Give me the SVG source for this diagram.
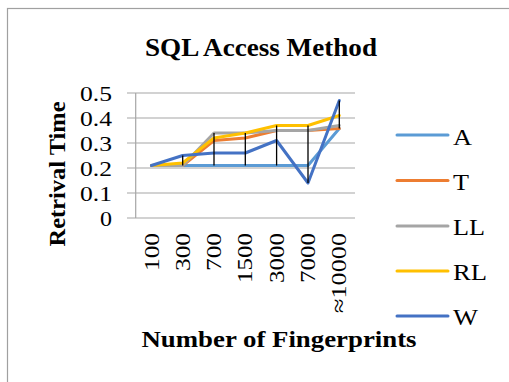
<svg xmlns="http://www.w3.org/2000/svg" width="509" height="382" viewBox="0 0 509 382">
<style>
text{font-family:"Liberation Serif","Times New Roman",serif;fill:#000}
.b{font-weight:bold}
.grid{stroke:#A6A6A6;stroke-width:1.2;fill:none}
.s{fill:none;stroke-width:3;stroke-linejoin:round;stroke-linecap:round}
.hl{stroke:#000;stroke-width:1.3}
.tick{font-size:21.5px;text-anchor:end}
.xl{font-size:22px;text-anchor:end}
.lg{font-size:24px}
</style>
<rect x="0" y="0" width="509" height="382" fill="#fff"/>
<rect x="7.5" y="8.5" width="520" height="400" fill="#fff" stroke="#A0A0A0" stroke-width="1.2"/>
<text class="b" x="261" y="56" font-size="25.5" text-anchor="middle" textLength="232" lengthAdjust="spacingAndGlyphs">SQL Access Method</text>
<g id="axes">
<path class="grid" d="M127 93H355M127 118H355M127 143H355M127 168H355M127 193H355M127 218H355M135.7 93V218"/>
<text class="tick" x="112" y="100.5" textLength="32" lengthAdjust="spacingAndGlyphs">0.5</text>
<text class="tick" x="112" y="125.5" textLength="32" lengthAdjust="spacingAndGlyphs">0.4</text>
<text class="tick" x="112" y="150.5" textLength="32" lengthAdjust="spacingAndGlyphs">0.3</text>
<text class="tick" x="112" y="175.5" textLength="32" lengthAdjust="spacingAndGlyphs">0.2</text>
<text class="tick" x="112" y="200.5" textLength="32" lengthAdjust="spacingAndGlyphs">0.1</text>
<text class="tick" x="112" y="225.5" textLength="12" lengthAdjust="spacingAndGlyphs">0</text>
<text class="xl" transform="translate(158.5,233) rotate(-90)" textLength="38" lengthAdjust="spacingAndGlyphs">100</text>
<text class="xl" transform="translate(189.8,233) rotate(-90)" textLength="38" lengthAdjust="spacingAndGlyphs">300</text>
<text class="xl" transform="translate(221.1,233) rotate(-90)" textLength="38" lengthAdjust="spacingAndGlyphs">700</text>
<text class="xl" transform="translate(252.4,233) rotate(-90)" textLength="50" lengthAdjust="spacingAndGlyphs">1500</text>
<text class="xl" transform="translate(283.7,233) rotate(-90)" textLength="50" lengthAdjust="spacingAndGlyphs">3000</text>
<text class="xl" transform="translate(315.1,233) rotate(-90)" textLength="50" lengthAdjust="spacingAndGlyphs">7000</text>
<text class="xl" transform="translate(346.4,233) rotate(-90)" textLength="80" lengthAdjust="spacingAndGlyphs">≈10000</text>
<text class="b" transform="translate(65,174) rotate(-90)" font-size="24" text-anchor="middle" textLength="145" lengthAdjust="spacingAndGlyphs">Retrival Time</text>
<text class="b" x="279" y="347" font-size="24" text-anchor="middle" textLength="275" lengthAdjust="spacingAndGlyphs">Number of Fingerprints</text>
</g>
<g id="connectors">
<polyline id="A" class="s" stroke="#5B9BD5" points="151.4,165.5 182.7,165.5 214,165.5 245.3,165.5 276.6,165.5 308,165.5 339.3,128.5"/>
<polyline id="T" class="s" stroke="#ED7D31" points="151.4,165.5 182.7,165.5 214,140.5 245.3,138 276.6,130.5 308,130.5 339.3,128.5"/>
<polyline id="LL" class="s" stroke="#A5A5A5" points="151.4,165.5 182.7,165.5 214,133 245.3,133 276.6,130.5 308,130.5 339.3,125.5"/>
<polyline id="RL" class="s" stroke="#FFC000" points="151.4,165.5 182.7,163 214,138 245.3,133 276.6,125.5 308,125.5 339.3,115.5"/>
<polyline id="W" class="s" stroke="#4472C4" points="151.4,165.5 182.7,155.5 214,153 245.3,153 276.6,140.5 308,183 339.3,100.5"/>
<path class="hl" d="M182.7 155.5V165.5M214 133V165.5M245.3 133V165.5M276.6 125.5V165.5M308 125.5V183M339.3 100.5V128.5"/>
</g>
<g id="legend">
<path class="s" stroke="#5B9BD5" d="M397 135H448"/>
<path class="s" stroke="#ED7D31" d="M397 180.5H448"/>
<path class="s" stroke="#A5A5A5" d="M397 226H448"/>
<path class="s" stroke="#FFC000" d="M397 271H448"/>
<path class="s" stroke="#4472C4" d="M397 316H448"/>
<text class="lg" x="453" y="145" textLength="19" lengthAdjust="spacingAndGlyphs">A</text>
<text class="lg" x="453" y="190" textLength="16" lengthAdjust="spacingAndGlyphs">T</text>
<text class="lg" x="453" y="235" textLength="32" lengthAdjust="spacingAndGlyphs">LL</text>
<text class="lg" x="453" y="280" textLength="34" lengthAdjust="spacingAndGlyphs">RL</text>
<text class="lg" x="453" y="325" textLength="25" lengthAdjust="spacingAndGlyphs">W</text>
</g>
</svg>
